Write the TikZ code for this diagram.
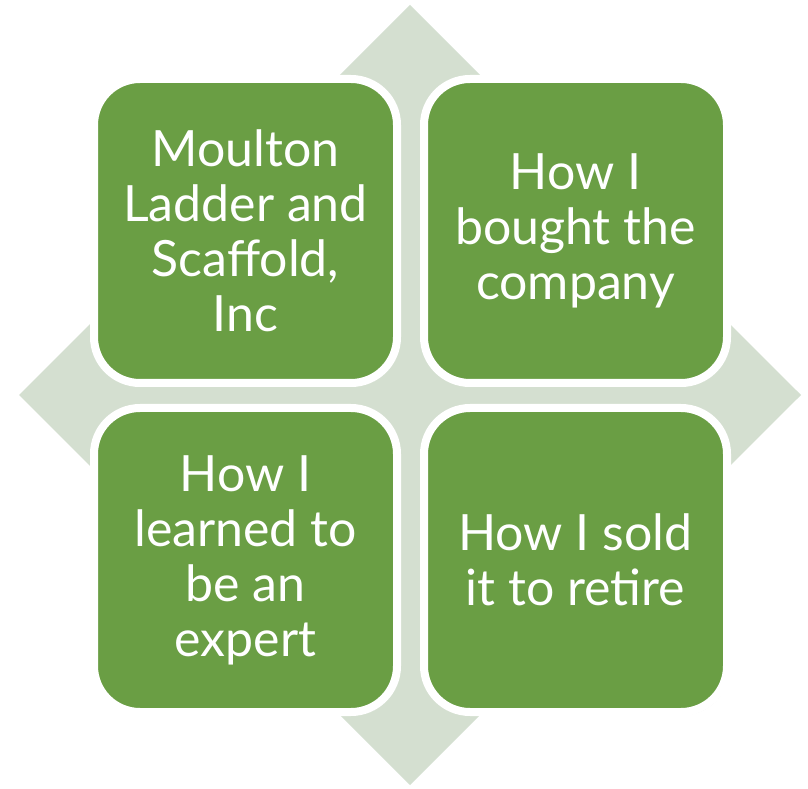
\documentclass[tikz,border=0pt]{standalone}
\usepackage{fontspec}
\setmainfont{Lato}
\usetikzlibrary{shadows}
\definecolor{boxgreen}{RGB}{106,158,68}
\definecolor{diamondgray}{RGB}{212,223,208}
\tikzset{
  quad/.style={draw=white, line width=8pt, fill=boxgreen, rounded corners=46pt,
    minimum width=303pt, minimum height=304pt, inner sep=0pt,
    text=white, align=center, font=\fontsize{50}{55}\selectfont,
    drop shadow={shadow xshift=2pt, shadow yshift=-3pt, opacity=0.25, fill=black!60}}
}
\begin{document}
\begin{tikzpicture}[x=1pt,y=1pt]
\useasboundingbox (0,0) rectangle (808,788);
\fill[diamondgray] (410,783) -- (19,393) -- (410,3) -- (801,393) -- cycle;
\node[quad] (tl) at (245.5,557) {Moulton\\Ladder and\\Scaffold,\\Inc};
\node[quad] (tr) at (575.5,557) {How I\\bought the\\company};
\node[quad] (bl) at (245.5,228) {How I\\learned to\\be an\\expert};
\node[quad] (br) at (575.5,228) {How I sold\\it to retire};
\end{tikzpicture}
\end{document}
